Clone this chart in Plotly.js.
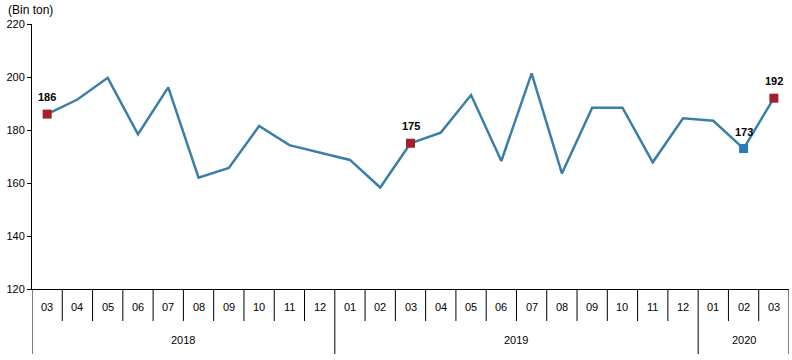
<!DOCTYPE html>
<html>
<head>
<meta charset="utf-8">
<script src="https://cdn.plot.ly/plotly-3.0.1.min.js"></script>
<style>html,body{margin:0;padding:0;background:#fff;}#chart{width:792px;height:360px;}</style>
</head>
<body>
<div id="chart"></div>
<script>
const years = ["2018","2018","2018","2018","2018","2018","2018","2018","2018","2018",
  "2019","2019","2019","2019","2019","2019","2019","2019","2019","2019","2019","2019",
  "2020","2020","2020"];
const months = ["03","04","05","06","07","08","09","10","11","12",
  "01","02","03","04","05","06","07","08","09","10","11","12",
  "01","02","03"];
const values = [186, 191.5, 199.7, 178.4, 196.1, 162, 165.7, 181.5, 174.3, 171.5,
  168.7, 158.3, 175, 179, 193.2, 168.3, 201.4, 163.6, 188.4, 188.4, 167.8, 184.4,
  183.5, 173, 192];
const highlightIdx = [0, 12, 24, 23];
const highlightColors = ["#a3202a", "#a3202a", "#a3202a", "#2a7ab8"];
const yTitle = "(Bin ton)";

const FONT = "Liberation Sans, Arial, sans-serif";
const idx = values.map((_, i) => i);
const hy = highlightIdx.map(i => values[i]);

const traces = [
  {type: "scatter", mode: "lines", x: idx, y: values,
   line: {color: "#3a7fa8", width: 2.5}, hoverinfo: "skip"},
  {type: "scatter", mode: "markers", x: highlightIdx, y: hy,
   marker: {symbol: "square", size: 9, color: highlightColors},
   cliponaxis: false, hoverinfo: "skip"}
];

const shapes = [];
const annotations = [];

// value labels
highlightIdx.forEach((i, k) => {
  annotations.push({x: i, y: values[i], xref: "x", yref: "y", text: "<b>" + Math.round(values[i]) + "</b>",
    showarrow: false, yanchor: "bottom", yshift: 9,
    font: {family: FONT, size: 11, color: "#000"}});
});

// month labels and separators
months.forEach((m, i) => {
  annotations.push({x: i, y: 0, xref: "x", yref: "paper", text: m, showarrow: false,
    yanchor: "middle", yshift: -18, font: {family: FONT, size: 11, color: "#000"}});
  if (i < months.length - 1 && years[i + 1] === years[i]) {
    shapes.push({type: "line", xref: "x", yref: "paper", ysizemode: "pixel", yanchor: 0,
      x0: i + 0.5, x1: i + 0.5, y0: 0, y1: -32, line: {color: "#000", width: 1}});
  }
});

// year groups
const groups = [];
years.forEach((y, i) => {
  if (!groups.length || groups[groups.length - 1].year !== y) groups.push({year: y, start: i, end: i});
  else groups[groups.length - 1].end = i;
});
groups.forEach(g => {
  annotations.push({x: (g.start + g.end) / 2, y: 0, xref: "x", yref: "paper", text: g.year,
    showarrow: false, yanchor: "middle", yshift: -51, font: {family: FONT, size: 11, color: "#000"}});
  shapes.push({type: "line", xref: "x", yref: "paper", ysizemode: "pixel", yanchor: 0,
    x0: g.start - 0.5, x1: g.start - 0.5, y0: 0, y1: -65, line: {color: "#000", width: 1}});
});
shapes.push({type: "line", xref: "x", yref: "paper", ysizemode: "pixel", yanchor: 0,
  x0: years.length - 0.5, x1: years.length - 0.5, y0: 0, y1: -65, line: {color: "#000", width: 1}});

annotations.push({text: yTitle, xref: "paper", yref: "paper", x: -0.035, y: 1.0, xanchor: "left",
  yanchor: "bottom", yshift: 5, showarrow: false, font: {family: FONT, size: 12, color: "#000"}});

const layout = {
  width: 792, height: 360,
  margin: {l: 32, r: 3, t: 24, b: 71},
  paper_bgcolor: "#fff", plot_bgcolor: "#fff",
  showlegend: false,
  font: {family: FONT, size: 11, color: "#000"},
  xaxis: {range: [-0.5, values.length - 0.5], showline: true, linecolor: "#000", linewidth: 1,
    showticklabels: false, ticks: "", showgrid: false, zeroline: false, fixedrange: true},
  yaxis: {range: [120, 220], dtick: 20, showline: true, linecolor: "#000", linewidth: 1,
    ticks: "outside", ticklen: 4, tickcolor: "#000", showgrid: false, zeroline: false,
    tickfont: {family: FONT, size: 11, color: "#000"}},
  shapes: shapes,
  annotations: annotations
};

Plotly.newPlot("chart", traces, layout, {staticPlot: true});
</script>
</body>
</html>
